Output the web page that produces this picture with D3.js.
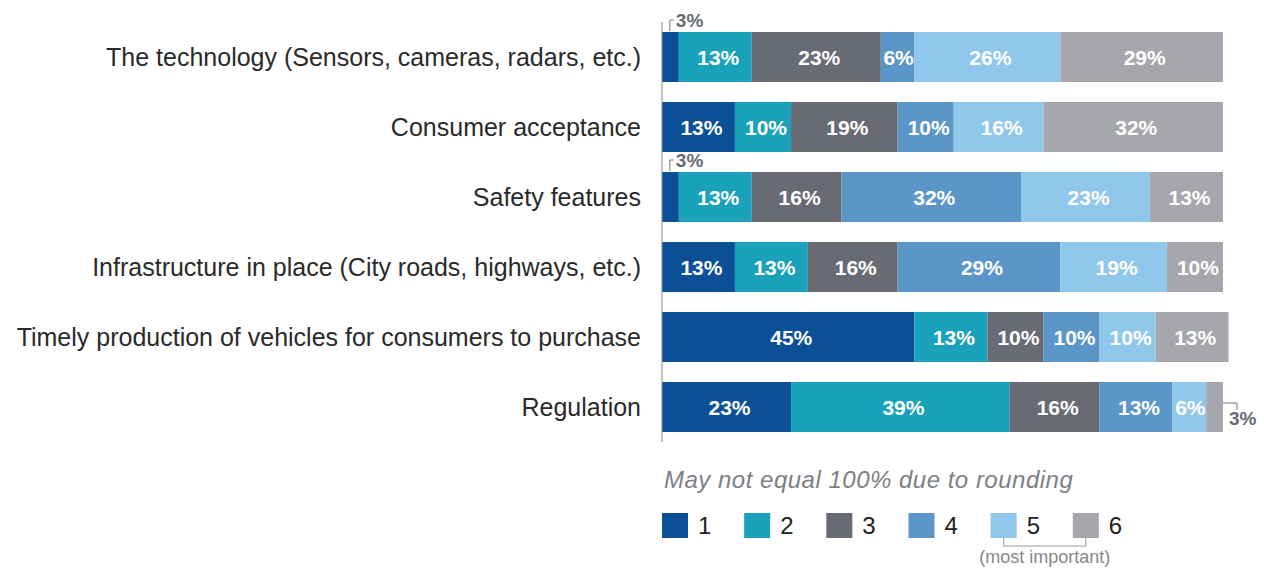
<!DOCTYPE html>
<html>
<head>
<meta charset="utf-8">
<script src="https://cdn.jsdelivr.net/npm/d3@7"></script>
<style>
  body { margin: 0; background: #fff; }
  text { font-family: "Liberation Sans", Arial, sans-serif; }
</style>
</head>
<body>
<div id="chart"></div>
<script>
// categories and ranks
var categories = [
    "The technology (Sensors, cameras, radars, etc.)",
    "Consumer acceptance",
    "Safety features",
    "Infrastructure in place (City roads, highways, etc.)",
    "Timely production of vehicles for consumers to purchase",
    "Regulation"
];
var ranks = ["1", "2", "3", "4", "5", "6"];

// share of each rank per category (%)
var rank1 = [3, 13, 3, 13, 45, 23];
var rank2 = [13, 10, 13, 13, 13, 39];
var rank3 = [23, 19, 16, 16, 10, 16];
var rank4 = [6, 10, 32, 29, 10, 13];
var rank5 = [26, 16, 23, 19, 10, 6];
var rank6 = [29, 32, 13, 10, 13, 3];

var colors = ["#0b4f97", "#1aa2bb", "#686b73", "#5b96c8", "#90c8ec", "#a6a7ac"];

var W = 1264, H = 569;
var margin = { left: 662, top: 22 };

var series = [rank1, rank2, rank3, rank4, rank5, rank6];

var svg = d3.select("#chart")
    .append("svg")
    .attr("width", W)
    .attr("height", H);

var x = d3.scaleLinear()
    .domain([0, 100])
    .range([margin.left, margin.left + 561]);

var y = d3.scaleBand()
    .domain(categories)
    .range([margin.top, margin.top + 420])
    .paddingInner(0.286)
    .paddingOuter(0.143);

// build stacked rows
var rows = categories.map(function (c, i) {
    var acc = 0;
    return series.map(function (s, k) {
        var seg = { cat: c, rank: k, value: s[i], x0: acc, x1: acc + s[i] };
        acc += s[i];
        return seg;
    });
});

// category labels
svg.selectAll(".cat")
    .data(categories)
    .enter()
    .append("text")
    .attr("class", "cat")
    .attr("x", margin.left - 21)
    .attr("y", function (d) { return y(d) + y.bandwidth() / 2; })
    .attr("dy", "0.36em")
    .attr("text-anchor", "end")
    .attr("font-size", "25px")
    .attr("fill", "#2a2a2a")
    .text(function (d) { return d; });

// bars
var row = svg.selectAll(".row")
    .data(rows)
    .enter()
    .append("g")
    .attr("class", "row");

row.selectAll("rect")
    .data(function (d) { return d; })
    .enter()
    .append("rect")
    .attr("x", function (d) { return x(d.x0); })
    .attr("y", function (d) { return y(d.cat); })
    .attr("width", function (d) { return x(d.x1) - x(d.x0); })
    .attr("height", y.bandwidth())
    .attr("fill", function (d) { return colors[d.rank]; });

// value labels inside (skip tiny segments)
row.selectAll(".val")
    .data(function (d) { return d.filter(function (s) { return s.value > 4; }); })
    .enter()
    .append("text")
    .attr("class", "val")
    .attr("x", function (d) { return (x(d.x0) + x(d.x1)) / 2 + (d.value < 8 ? 1 : 3); })
    .attr("y", function (d) { return y(d.cat) + y.bandwidth() / 2; })
    .attr("dy", "0.36em")
    .attr("text-anchor", "middle")
    .attr("font-size", "21px")
    .attr("font-weight", "bold")
    .attr("fill", "#fff")
    .text(function (d) { return d.value + "%"; });

// callouts for small segments
var small = [];
rows.forEach(function (r) {
    r.forEach(function (s) { if (s.value <= 4) small.push(s); });
});

small.forEach(function (s) {
    var by = y(s.cat);
    if (s.x0 === 0) {
        // above the bar, left side
        var bx = x(s.x1) - 9;
        svg.append("path")
            .attr("d", "M" + bx + "," + (by - 1) + "V" + (by - 12) + "H" + (bx + 4))
            .attr("fill", "none")
            .attr("stroke", "#777")
            .attr("stroke-width", 1);
        svg.append("text")
            .attr("x", bx + 6)
            .attr("y", by - 5)
            .attr("font-size", "19px")
            .attr("font-weight", "bold")
            .attr("fill", "#686b73")
            .text(s.value + "%");
    } else {
        // right of the bar
        var ex = x(s.x1);
        var my = y(s.cat) + y.bandwidth() / 2;
        svg.append("path")
            .attr("d", "M" + ex + "," + (my - 4) + "H" + (ex + 14) + "V" + (my + 3))
            .attr("fill", "none")
            .attr("stroke", "#777")
            .attr("stroke-width", 1);
        svg.append("text")
            .attr("x", ex + 6)
            .attr("y", my + 18)
            .attr("font-size", "19px")
            .attr("font-weight", "bold")
            .attr("fill", "#686b73")
            .text(s.value + "%");
    }
});

// vertical axis line
svg.append("line")
    .attr("x1", margin.left).attr("x2", margin.left)
    .attr("y1", margin.top).attr("y2", margin.top + 420)
    .attr("stroke", "#888")
    .attr("stroke-width", 1);

// footnote
svg.append("text")
    .attr("x", margin.left + 2)
    .attr("y", 488)
    .attr("font-size", "24px")
    .attr("letter-spacing", "0.5px")
    .attr("font-style", "italic")
    .attr("fill", "#7d7f86")
    .text("May not equal 100% due to rounding");

// legend
var lx = d3.scaleBand().domain(ranks).range([margin.left, margin.left + 493]);

var leg = svg.selectAll(".leg")
    .data(ranks)
    .enter()
    .append("g")
    .attr("class", "leg")
    .attr("transform", function (d) { return "translate(" + lx(d) + ",513)"; });

leg.append("rect")
    .attr("width", 26)
    .attr("height", 25)
    .attr("fill", function (d, i) { return colors[i]; });

leg.append("text")
    .attr("x", 36)
    .attr("y", 12.5)
    .attr("dy", "0.36em")
    .attr("font-size", "24px")
    .attr("fill", "#222")
    .text(function (d) { return d; });

// bracket under 5 and 6
var b5 = lx("5") + 13, b6 = lx("6") + 13;
svg.append("path")
    .attr("d", "M" + b5 + ",538V546H" + b6 + "V538")
    .attr("fill", "none")
    .attr("stroke", "#999")
    .attr("stroke-width", 1);

svg.append("text")
    .attr("x", (b5 + b6) / 2)
    .attr("y", 563)
    .attr("text-anchor", "middle")
    .attr("font-size", "18px")
    .attr("fill", "#888")
    .text("(most important)");
</script>
</body>
</html>
